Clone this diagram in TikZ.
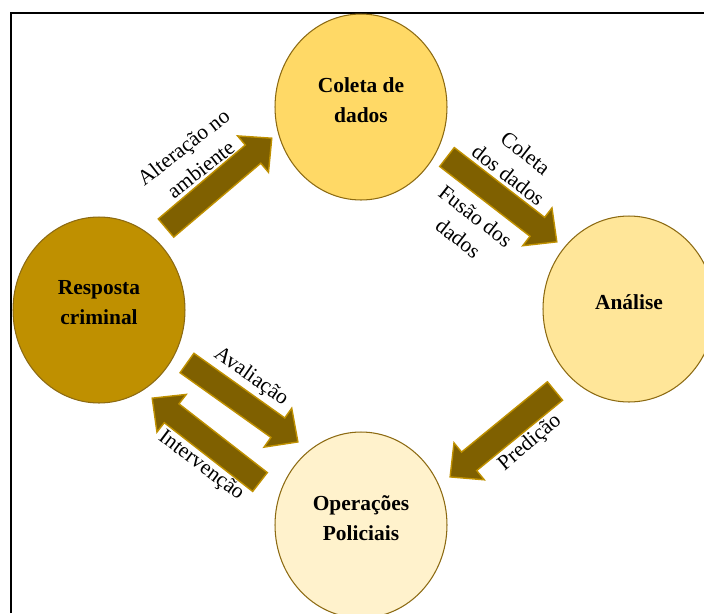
\documentclass[tikz,border=0pt]{standalone}
\usepackage{fontspec}
\setmainfont{Liberation Serif}
\usetikzlibrary{shapes.geometric,calc}

\definecolor{goldA}{HTML}{FFD966}
\definecolor{goldB}{HTML}{BF9000}
\definecolor{goldC}{HTML}{FFE699}
\definecolor{goldD}{HTML}{FFF2CC}
\definecolor{goldDark}{HTML}{7F6000}
\definecolor{goldEdge}{HTML}{8C6A12}

\tikzset{
  stage/.style={ellipse, draw=goldEdge, line width=0.6pt, inner sep=0pt,
    minimum width=3.44cm, minimum height=3.72cm},
  stagetext/.style={align=center, font=\fontsize{12.2}{17}\selectfont\bfseries},
  lbl/.style={align=center, font=\fontsize{12.2}{16}\selectfont, inner sep=0pt},
  flowarrow/.style={fill=goldDark, draw=goldB, line width=0.8pt, line join=miter},
}

% block arrow from one named coordinate to another
\newcommand\blockarrow[2]{%
  \path let \p1=(#1), \p2=(#2) in
    \pgfextra{%
      \pgfmathsetmacro\baA{atan2(\y2-\y1,\x2-\x1)}%
      \pgfmathsetmacro\baL{veclen(\x2-\x1,\y2-\y1)}%
      \xdef\baAngle{\baA}\xdef\baLen{\baL}};
  \begin{scope}[shift={(#1)}, rotate=\baAngle]
    \filldraw[flowarrow] (0pt,-6.8pt) -- ({\baLen pt-14pt},-6.8pt)
      -- ({\baLen pt-14pt},-13.6pt) -- (\baLen pt,0pt)
      -- ({\baLen pt-14pt},13.6pt) -- ({\baLen pt-14pt},6.8pt)
      -- (0pt,6.8pt) -- cycle;
  \end{scope}}

\begin{document}
\begin{tikzpicture}[x=0.02cm, y=-0.02cm]
  \useasboundingbox (0,0) rectangle (704,613);

  % frame
  \draw[line width=1.1pt] (11,613) -- (11,13) -- (704,13);

  % stages
  \node[stage, fill=goldA] (coleta)   at (361,107) {};
  \node[stage, fill=goldB] (resposta) at (99,310)  {};
  \node[stage, fill=goldC] (analise)  at (629,309) {};
  \node[stage, fill=goldD] (operacoes) at (361,525) {};

  \node[stagetext] (coleta-t)    at ($(coleta)+(0,-7)$)    {Coleta de\\dados};
  \node[stagetext] (resposta-t)  at ($(resposta)+(0,-7)$)  {Resposta\\criminal};
  \node[stagetext] (analise-t)   at ($(analise)+(0,-7)$)   {Análise};
  \node[stagetext] (operacoes-t) at ($(operacoes)+(0,-7)$) {Operações\\Policiais};

  % arrow end points
  \coordinate (a1t) at (166,228); \coordinate (a1h) at (272,138);
  \coordinate (a2t) at (447,157); \coordinate (a2h) at (557,242);
  \coordinate (a3t) at (555,391); \coordinate (a3h) at (450,477);
  \coordinate (a4t) at (187,363); \coordinate (a4h) at (298,442);
  \coordinate (a5t) at (260,482); \coordinate (a5h) at (152,398);

  \blockarrow{a1t}{a1h}
  \blockarrow{a2t}{a2h}
  \blockarrow{a3t}{a3h}
  \blockarrow{a4t}{a4h}
  \blockarrow{a5t}{a5h}

  % arrow labels
  \node[lbl, rotate=38]  (l1) at (192,158) {Alteração no\\ambiente};
  \node[lbl, rotate=-38] (l2) at (517,164) {Coleta\\dos dados};
  \node[lbl, rotate=-38] (l3) at (467,227) {Fusão dos\\dados};
  \node[lbl, rotate=-35] (l4) at (251,377) {Avaliação};
  \node[lbl, rotate=-37] (l5) at (201,466) {Intervenção};
  \node[lbl, rotate=40]  (l6) at (530,443) {Predição};
\end{tikzpicture}
\end{document}
